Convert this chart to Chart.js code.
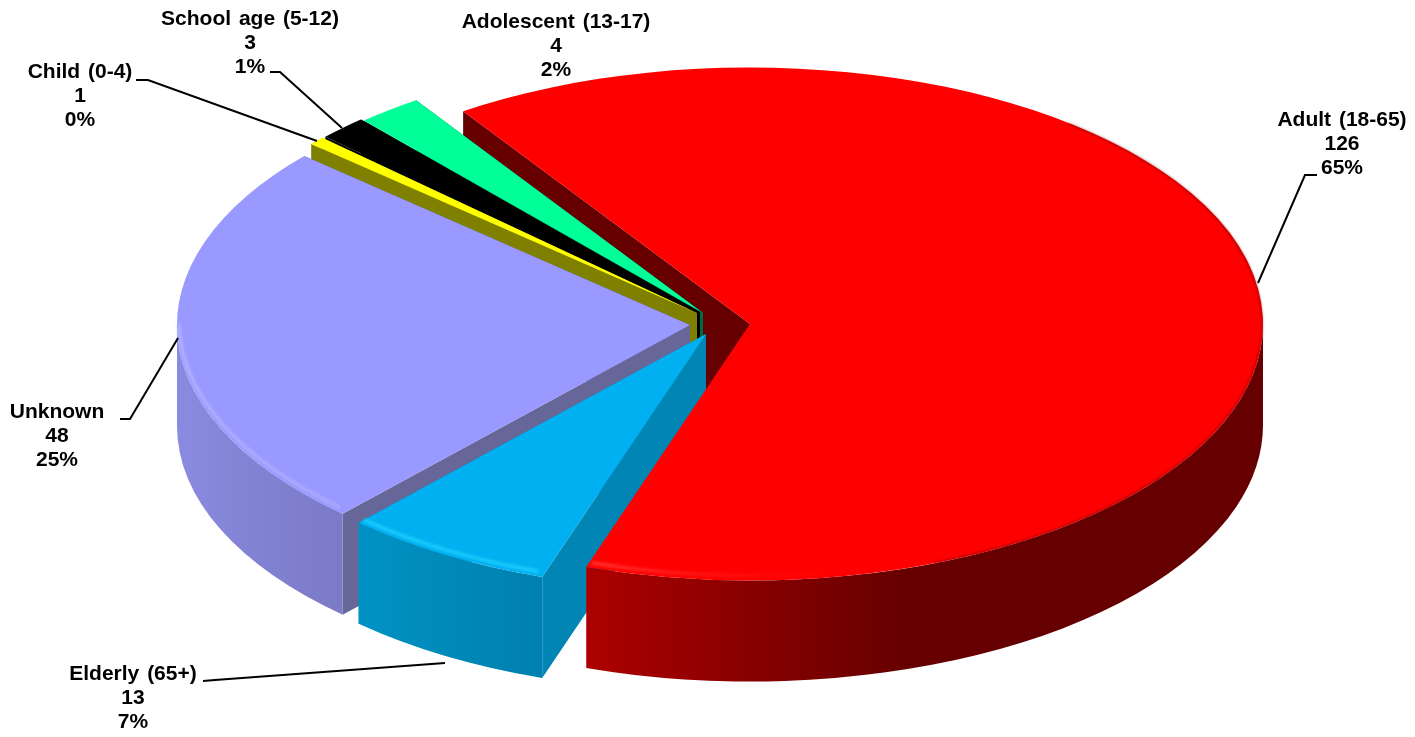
<!DOCTYPE html>
<html>
<head>
<meta charset="utf-8">
<title>Age groups</title>
<script src="https://cdn.jsdelivr.net/npm/chart.js@4/dist/chart.umd.min.js"></script>
<style>
  body { margin: 0; background: #fff; }
  canvas { display: block; }
</style>
</head>
<body>
<canvas id="pie" width="1415" height="737"></canvas>
<script>
// datos
const categories = ['Adult (18-65)', 'Elderly (65+)', 'Unknown', 'Child (0-4)', 'School age (5-12)', 'Adolescent (13-17)'];
const counts = [126, 13, 48, 1, 3, 4];
const percents = ['65%', '7%', '25%', '0%', '1%', '2%'];

// colores por porcion
const topColors = ['#FF0000', '#00B0F0', '#9999FF', '#FFFF00', '#000000', '#00FF99'];
const cutColors = ['#660000', '#0085B5', '#666699', '#7F7F00', '#000000', '#006B40'];
const wallLeft = ['#AD0000', '#0092C4', '#8A8AE0', '#7F7F00', '#000000', '#006B40'];
const wallRight = ['#660000', '#0080AE', '#7A7AC6', '#7F7F00', '#000000', '#006B40'];
const rimColors = ['rgba(255,60,60,1)', '#22D2FF', '#B4B4FF', null, null, null];
const rimFade = ['rgba(255,0,0,0)', '#22D2FF', '#A6A6FF', null, null, null];

// desplazamiento de cada porcion en pantalla y geometria 3D
const shiftX = [25, -19, -35, -28, -25, -22];
const shiftY = [4, 14, 5, -7, -8, -7];
const squash = 0.5;
const depth = 101;
const wallOrder = [5, 4, 3, 2, 1];

// etiquetas: centro del texto, y de cada linea, linea guia
const labelX = [1342, 133, 57, 80, 250, 556];
const labelY = [120, 674, 412, 72, 19, 22];
const leaders = [
  [[1317, 175], [1305, 175], [1258, 283]],
  [[203, 681], [215, 680], [445, 663]],
  [[120, 419], [130, 419], [178, 338]],
  [[136, 80], [148, 80], [317, 141]],
  [[270, 72], [280, 72], [342, 128]],
  null
];

function midY(chart) {
  return (chart.chartArea.top + chart.chartArea.bottom) / 2;
}

function rimPoint(chart, arc, angle, z) {
  const cy = midY(chart);
  return [arc.x + arc.outerRadius * Math.cos(angle),
          cy + (arc.y - cy + arc.outerRadius * Math.sin(angle)) * squash + z];
}

function apexPoint(chart, arc, z) {
  const cy = midY(chart);
  return [arc.x, cy + (arc.y - cy) * squash + z];
}

// cara plana del corte
function drawCut(ctx, chart, arc, angle, color) {
  const a = apexPoint(chart, arc, 0);
  const b = rimPoint(chart, arc, angle, 0);
  const c = rimPoint(chart, arc, angle, depth);
  const d = apexPoint(chart, arc, depth);
  ctx.fillStyle = color;
  ctx.beginPath();
  ctx.moveTo(a[0], a[1]);
  ctx.lineTo(b[0], b[1]);
  ctx.lineTo(c[0], c[1]);
  ctx.lineTo(d[0], d[1]);
  ctx.closePath();
  ctx.fill();
}

// rango del borde que mira al frente
function frontRange(arc) {
  const from = Math.max(arc.startAngle, 0);
  const to = Math.min(arc.endAngle, Math.PI);
  return to > from ? [from, to] : null;
}

function ellipsePath(ctx, chart, arc, from, to, z, reverse) {
  const y = apexPoint(chart, arc, z)[1];
  ctx.ellipse(arc.x, y, arc.outerRadius, arc.outerRadius * squash, 0, reverse ? to : from, reverse ? from : to, reverse);
}

function drawWall(ctx, chart, arc, i) {
  const range = frontRange(arc);
  if (!range) return;
  const left = rimPoint(chart, arc, range[1], 0)[0];
  const right = rimPoint(chart, arc, range[0], 0)[0];
  const grad = ctx.createLinearGradient(left, 0, i === 0 ? left + 320 : right, 0);
  grad.addColorStop(0, wallLeft[i]);
  grad.addColorStop(1, wallRight[i]);
  ctx.fillStyle = grad;
  ctx.beginPath();
  ellipsePath(ctx, chart, arc, range[0], range[1], 0, false);
  ellipsePath(ctx, chart, arc, range[0], range[1], depth, true);
  ctx.closePath();
  ctx.fill();
}

// brillo difuso sobre el borde frontal
function drawRim(ctx, chart, arc, i) {
  const range = frontRange(arc);
  if (!range || !rimColors[i]) return;
  const left = rimPoint(chart, arc, range[1], 0)[0];
  const grad = ctx.createLinearGradient(left, 0, left + 300, 0);
  grad.addColorStop(0, rimColors[i]);
  grad.addColorStop(1, rimFade[i]);
  const r = arc.outerRadius - 2;
  ctx.save();
  ctx.filter = 'blur(1.5px)';
  ctx.strokeStyle = grad;
  ctx.lineWidth = 3;
  ctx.beginPath();
  ctx.ellipse(arc.x, apexPoint(chart, arc, -4)[1], r, r * squash, 0, range[0] + 0.01, range[1] - 0.01);
  ctx.stroke();
  ctx.restore();
}

const pie3d = {
  id: 'pie3d',
  afterDatasetsUpdate(chart) {
    chart.getDatasetMeta(0).data.forEach((arc, i) => {
      arc.x += shiftX[i];
      arc.y += shiftY[i] / squash;
    });
  },
  beforeDatasetDraw(chart) {
    const ctx = chart.ctx;
    const arcs = chart.getDatasetMeta(0).data;
    // primero el corte del rojo, que queda detras de todo
    drawCut(ctx, chart, arcs[0], arcs[0].startAngle, cutColors[0]);
    wallOrder.forEach(i => {
      drawCut(ctx, chart, arcs[i], arcs[i].startAngle, cutColors[i]);
      drawCut(ctx, chart, arcs[i], arcs[i].endAngle, cutColors[i]);
      drawWall(ctx, chart, arcs[i], i);
    });
    drawWall(ctx, chart, arcs[0], 0);
    // las caras superiores se aplastan en vertical
    const cx = (chart.chartArea.left + chart.chartArea.right) / 2;
    const cy = midY(chart);
    ctx.save();
    ctx.translate(cx, cy);
    ctx.scale(1, squash);
    ctx.translate(-cx, -cy);
  },
  afterDatasetDraw(chart) {
    const ctx = chart.ctx;
    ctx.restore();
    const arcs = chart.getDatasetMeta(0).data;
    // canto oscuro y suave del rojo
    const red = arcs[0];
    ctx.save();
    ctx.filter = 'blur(1px)';
    ctx.strokeStyle = 'rgba(102,0,0,0.4)';
    ctx.lineWidth = 2;
    ctx.beginPath();
    ctx.ellipse(red.x, apexPoint(chart, red, 0)[1], red.outerRadius - 1, (red.outerRadius - 1) * squash, 0, -0.9, 1.2);
    ctx.stroke();
    ctx.restore();
    arcs.forEach((arc, i) => drawRim(ctx, chart, arc, i));
  },
  afterDraw(chart) {
    const ctx = chart.ctx;
    ctx.save();
    ctx.strokeStyle = '#000';
    ctx.lineWidth = 2;
    leaders.forEach(line => {
      if (!line) return;
      ctx.beginPath();
      line.forEach((p, j) => j ? ctx.lineTo(p[0], p[1]) : ctx.moveTo(p[0], p[1]));
      ctx.stroke();
    });
    ctx.fillStyle = '#000';
    ctx.font = 'bold 21px "Liberation Sans"';
    ctx.wordSpacing = '2px';
    ctx.textAlign = 'center';
    ctx.textBaseline = 'middle';
    categories.forEach((name, i) => {
      ctx.fillText(name, labelX[i], labelY[i]);
      ctx.fillText(String(counts[i]), labelX[i], labelY[i] + 24);
      ctx.fillText(percents[i], labelX[i], labelY[i] + 48);
    });
    ctx.restore();
  }
};

new Chart(document.getElementById('pie'), {
  type: 'pie',
  data: {
    labels: categories,
    datasets: [{
      data: counts,
      backgroundColor: topColors,
      borderWidth: 0,
      clip: false
    }]
  },
  options: {
    responsive: false,
    animation: false,
    rotation: -34,
    radius: 513,
    layout: { padding: { left: 35, bottom: 97 } },
    plugins: {
      legend: { display: false },
      tooltip: { enabled: false }
    }
  },
  plugins: [pie3d]
});
</script>
</body>
</html>
